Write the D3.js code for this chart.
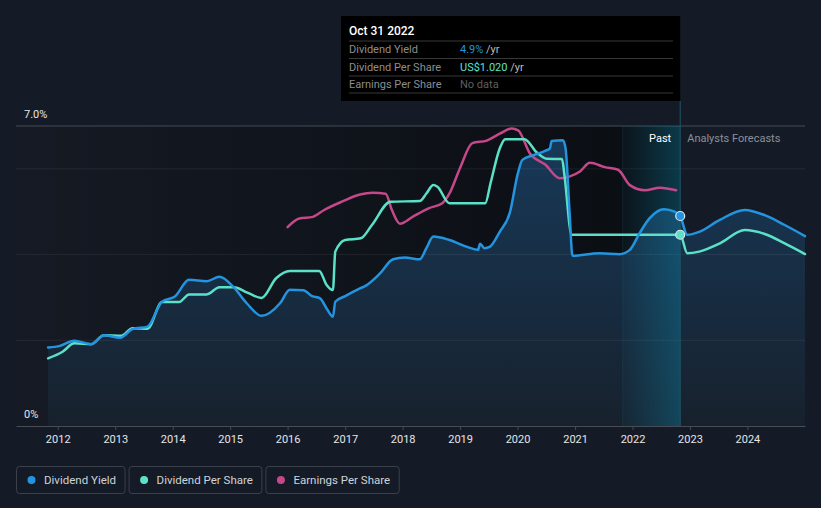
<!DOCTYPE html>
<html>
<head>
<meta charset="utf-8">
<script src="https://cdn.jsdelivr.net/npm/d3@7"></script>
<style>
  html, body { margin: 0; padding: 0; background: #151b26; }
  svg { display: block; font-family: Roboto, "Noto Sans", sans-serif; }
</style>
</head>
<body>
<svg id="chart" width="821" height="508"></svg>
<script>
// ---------- DATA ----------
const yieldDates = ["2011-11-01","2012-01-15","2012-04-15","2012-08-01","2012-10-20","2013-02-01","2013-04-20","2013-07-25","2013-10-25","2014-01-15","2014-04-15","2014-08-05","2014-10-25","2015-01-20","2015-04-15","2015-07-20","2015-11-15","2016-01-15","2016-04-10","2016-06-05","2016-07-25","2016-09-10","2016-10-15","2016-10-30","2017-01-01","2017-04-05","2017-05-10","2017-08-10","2017-11-01","2018-01-15","2018-04-20","2018-06-01","2018-07-15","2018-10-25","2019-02-15","2019-04-25","2019-05-08","2019-06-05","2019-07-08","2019-09-10","2019-11-15","2020-01-01","2020-02-01","2020-04-10","2020-06-25","2020-07-25","2020-08-05","2020-10-15","2020-11-01","2020-11-28","2020-12-15","2021-06-05","2021-10-10","2021-12-15","2022-02-15","2022-04-20","2022-07-20","2022-09-25","2022-10-31","2022-12-15","2023-03-01","2023-07-10","2023-12-15","2024-04-20","2024-08-25","2025-01-01"];
const yieldValues = [1.83,1.87,1.99,1.91,2.12,2.06,2.26,2.32,2.90,3.02,3.41,3.38,3.48,3.25,2.87,2.57,2.87,3.18,3.17,3.03,2.98,2.71,2.55,2.90,3.03,3.21,3.27,3.56,3.89,3.93,3.89,4.15,4.42,4.34,4.18,4.11,4.25,4.15,4.18,4.53,5.00,5.86,6.21,6.32,6.42,6.48,6.65,6.67,6.49,4.92,3.97,4.03,4.01,4.11,4.50,4.85,5.06,5.00,4.90,4.46,4.53,4.81,5.04,4.92,4.69,4.43];

const dpsDates = ["2011-11-01","2012-02-01","2012-04-15","2012-08-01","2012-10-20","2013-02-10","2013-04-20","2013-07-25","2013-10-25","2014-02-10","2014-04-15","2014-08-05","2014-10-25","2015-01-25","2015-04-20","2015-07-20","2015-10-20","2016-01-15","2016-07-20","2016-09-05","2016-10-15","2016-10-30","2017-01-01","2017-04-10","2017-06-20","2017-10-15","2018-04-20","2018-06-01","2018-07-15","2018-08-10","2018-10-25","2019-06-10","2019-07-15","2019-09-10","2019-10-15","2020-02-15","2020-05-01","2020-07-05","2020-10-10","2020-10-25","2020-12-10","2022-10-31","2022-12-15","2023-03-01","2023-07-10","2023-12-15","2024-04-20","2024-08-25","2025-01-01"];
const dpsValues = [0.361,0.396,0.441,0.436,0.484,0.482,0.521,0.519,0.661,0.661,0.702,0.702,0.740,0.740,0.711,0.683,0.788,0.827,0.827,0.752,0.725,0.930,0.992,1.001,1.072,1.196,1.200,1.240,1.285,1.276,1.188,1.188,1.300,1.480,1.530,1.530,1.460,1.425,1.424,1.340,1.020,1.020,0.921,0.930,0.974,1.045,1.024,0.974,0.917];

const epsDates = ["2016-01-01","2016-03-15","2016-06-10","2016-08-20","2016-12-15","2017-04-05","2017-06-25","2017-09-15","2017-10-25","2017-12-15","2018-03-05","2018-06-15","2018-09-10","2018-10-25","2019-01-01","2019-03-20","2019-06-20","2019-09-10","2019-11-25","2020-01-05","2020-03-20","2020-06-25","2020-09-25","2020-11-25","2021-02-01","2021-04-05","2021-07-10","2021-10-01","2021-12-15","2022-03-20","2022-06-25","2022-10-05"];
const epsValues = [2.32,2.42,2.44,2.52,2.62,2.70,2.72,2.71,2.52,2.36,2.44,2.54,2.60,2.71,3.01,3.30,3.33,3.41,3.47,3.45,3.18,3.05,2.89,2.91,2.97,3.07,3.02,2.99,2.81,2.75,2.78,2.75];

const yearTicks = [2012,2013,2014,2015,2016,2017,2018,2019,2020,2021,2022,2023,2024];
const yGridTicks = [2,4,6,7];
const yLabelTicks = [0,7];
const legendItems = ["Dividend Yield","Dividend Per Share","Earnings Per Share"];
const seriesColors = ["#2394df","#5ce1c9","#c4488a"];
const tooltipDate = "2022-10-31";
const tooltipTitle = "Oct 31 2022";
const tooltipRows = [
  {label:"Dividend Yield", value:"4.9%", unit:" /yr"},
  {label:"Dividend Per Share", value:"US$1.020", unit:" /yr"},
  {label:"Earnings Per Share", value:"No data", unit:""}
];
const pastStart = "2021-10-31";

// ---------- SETUP ----------
const parse = d3.timeParse("%Y-%m-%d");
const zip = (ds, vs) => ds.map((d,i)=>({date: parse(d), value: vs[i]}));
const yieldData = zip(yieldDates, yieldValues);
const dpsData = zip(dpsDates, dpsValues);
const epsData = zip(epsDates, epsValues);

const W = 821, H = 508;
const pLeft = 16, pRight = 805, pTop = 126, pBottom = 426;
const svg = d3.select("#chart");

const x = d3.scaleTime().domain([new Date(2011,3,11), new Date(2025,0,1)]).range([pLeft, pRight]);
const yY = d3.scaleLinear().domain([0,7]).range([pBottom, pTop]);
const yD = d3.scaleLinear().domain([0,1.6]).range([pBottom, pTop]);
const yE = d3.scaleLinear().domain([0,3.5]).range([pBottom, pTop]);

const tipX = x(parse(tooltipDate));
const pastX = x(parse(pastStart));

const defs = svg.append("defs");
const gPast = defs.append("linearGradient").attr("id","pastBg")
  .attr("gradientUnits","userSpaceOnUse").attr("x1",pLeft).attr("x2",pastX).attr("y1",0).attr("y2",0);
gPast.append("stop").attr("offset",0).attr("stop-color","#151a24");
gPast.append("stop").attr("offset",1).attr("stop-color","#0b0e13");

const gArea = defs.append("linearGradient").attr("id","areaFill")
  .attr("gradientUnits","userSpaceOnUse").attr("x1",0).attr("x2",0).attr("y1",pTop).attr("y2",pBottom);
gArea.append("stop").attr("offset",0).attr("stop-color","#173a5a");
gArea.append("stop").attr("offset",1).attr("stop-color","#17212d");

const gBand = defs.append("linearGradient").attr("id","bandFill")
  .attr("gradientUnits","userSpaceOnUse").attr("x1",pastX).attr("x2",tipX).attr("y1",0).attr("y2",0);
gBand.append("stop").attr("offset",0).attr("stop-color","#0b8fb5").attr("stop-opacity",0.05);
gBand.append("stop").attr("offset",1).attr("stop-color","#0b8fb5").attr("stop-opacity",0.34);

// background
svg.append("rect").attr("width",W).attr("height",H).attr("fill","#151b26");
svg.append("rect").attr("x",pLeft).attr("y",pTop).attr("width",pastX-pLeft).attr("height",pBottom-pTop).attr("fill","url(#pastBg)");
svg.append("rect").attr("x",pastX).attr("y",pTop).attr("width",tipX-pastX).attr("height",pBottom-pTop).attr("fill","#0b0e13");

// area under dividend yield
const area = d3.area().x(d=>x(d.date)).y0(pBottom).y1(d=>yY(d.value)).curve(d3.curveMonotoneX);
svg.append("path").datum(yieldData).attr("d",area).attr("fill","url(#areaFill)");

// gridlines
svg.append("g").selectAll("line").data(yGridTicks).join("line")
  .attr("x1",pLeft).attr("x2",pRight)
  .attr("y1",d=>yY(d)).attr("y2",d=>yY(d))
  .attr("stroke",d=> d===7 ? "#474c55" : "rgba(255,255,255,0.07)").attr("stroke-width",1);

// past band overlay
svg.append("rect").attr("x",pastX).attr("y",pTop).attr("width",tipX-pastX).attr("height",pBottom-pTop).attr("fill","url(#bandFill)");
svg.append("line").attr("x1",pastX).attr("x2",pastX).attr("y1",pTop).attr("y2",pBottom).attr("stroke","rgba(40,110,140,0.2)");
svg.append("line").attr("x1",tipX).attr("x2",tipX).attr("y1",101).attr("y2",pBottom).attr("stroke","#1d5568").attr("stroke-width",1);

// x axis
const xAxis = d3.axisBottom(x).tickValues(yearTicks.map(yr=>new Date(yr,0,1)))
  .tickFormat(d3.timeFormat("%Y")).tickSize(4).tickPadding(5).tickSizeOuter(0);
const gx = svg.append("g").attr("transform",`translate(0,${pBottom})`).call(xAxis);
gx.select(".domain").attr("stroke","#474c55");
gx.selectAll(".tick line").attr("stroke","#474c55");
gx.selectAll(".tick text").attr("fill","#e6e6e6").attr("font-size",11).attr("font-family","Roboto, sans-serif");

// y labels
svg.append("g").selectAll("text").data(yLabelTicks).join("text")
  .attr("x",24).attr("y",d=>yY(d)-8)
  .attr("fill","#e6e6e6").attr("font-size",11)
  .text(d=> d===0 ? "0%" : d3.format(".1f")(d)+"%");

// lines
const line = (ys) => d3.line().x(d=>x(d.date)).y(d=>ys(d.value)).curve(d3.curveMonotoneX);
svg.append("path").datum(epsData).attr("d",line(yE)).attr("fill","none").attr("stroke",seriesColors[2]).attr("stroke-width",2.5).attr("stroke-linecap","round");
svg.append("path").datum(dpsData).attr("d",line(yD)).attr("fill","none").attr("stroke",seriesColors[1]).attr("stroke-width",2.5).attr("stroke-linecap","round");
svg.append("path").datum(yieldData).attr("d",line(yY)).attr("fill","none").attr("stroke",seriesColors[0]).attr("stroke-width",2.5).attr("stroke-linecap","round");

// dots at tooltip date
const tipDate = parse(tooltipDate);
const yv = yieldData.find(d=>+d.date===+tipDate).value;
const dv = dpsData.find(d=>+d.date===+tipDate).value;
svg.append("circle").attr("cx",x(tipDate)).attr("cy",yY(yv)).attr("r",4.5).attr("fill",seriesColors[0]).attr("stroke","#dde8f0").attr("stroke-width",1.2);
svg.append("circle").attr("cx",x(tipDate)).attr("cy",yD(dv)).attr("r",4.5).attr("fill",seriesColors[1]).attr("stroke","#dde8f0").attr("stroke-width",1.2);

// Past / Analysts Forecasts labels
svg.append("text").attr("x",tipX-9).attr("y",142).attr("text-anchor","end").attr("fill","#ffffff").attr("font-size",11).text("Past");
svg.append("text").attr("x",tipX+7).attr("y",142).attr("fill","#8b9099").attr("font-size",11).text("Analysts Forecasts");

// tooltip
const tt = svg.append("g");
tt.append("rect").attr("x",341).attr("y",16).attr("width",tipX-341).attr("height",85).attr("fill","#000000");
tt.append("text").attr("x",349).attr("y",35).attr("fill","#ffffff").attr("font-size",12).attr("font-weight",500).text(tooltipTitle);
[41,58.5,76,93].forEach(yy=>{
  tt.append("line").attr("x1",349).attr("x2",673).attr("y1",yy).attr("y2",yy).attr("stroke","#383838");
});
const rowColors = [seriesColors[0], seriesColors[1], "#5f5f5f"];
tooltipRows.forEach((r,i)=>{
  const by = 53 + i*17.5;
  tt.append("text").attr("x",349).attr("y",by).attr("fill","#8d8d8d").attr("font-size",11).text(r.label);
  const t = tt.append("text").attr("x",460).attr("y",by).attr("font-size",11);
  t.append("tspan").attr("fill",rowColors[i]).text(r.value);
  t.append("tspan").attr("fill","#bdbdbd").text(r.unit);
});

// legend
const lg = svg.append("g");
let lx = 16.5;
legendItems.forEach((name,i)=>{
  const g = lg.append("g");
  const rect = g.append("rect").attr("x",lx).attr("y",466.5).attr("height",27).attr("rx",3)
    .attr("fill","none").attr("stroke","#3b414b");
  g.append("circle").attr("cx",lx+15).attr("cy",480).attr("r",4).attr("fill",seriesColors[i]);
  const t = g.append("text").attr("x",lx+27.5).attr("y",484).attr("fill","#cfd3d8").attr("font-size",11.5).text(name);
  const w = 27.5 + t.node().getComputedTextLength() + 9;
  rect.attr("width",w);
  lx += w + 4;
});
</script>
</body>
</html>
